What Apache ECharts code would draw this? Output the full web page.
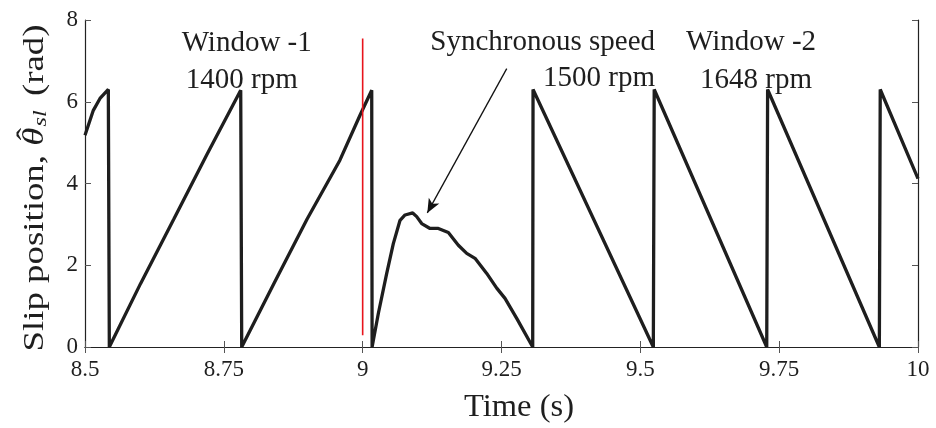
<!DOCTYPE html>
<html><head><meta charset="utf-8">
<script src="https://cdn.jsdelivr.net/npm/echarts@6/dist/echarts.min.js"></script>
<style>html,body{margin:0;padding:0;background:#fff}#c{width:936px;height:428px}</style>
</head><body><div id="c"></div>
<script>
// Slip position trace (time in s, value in rad)
const timeS = [8.5, 8.515, 8.527, 8.542, 8.5438,
  8.60, 8.66, 8.72, 8.7804, 8.7822,
  8.84, 8.90, 8.959, 8.9952, 9.0163, 9.0170,
  9.0282, 9.0433, 9.0552, 9.0673, 9.0763, 9.0901, 9.0973, 9.1063, 9.1213, 9.1363, 9.1543, 9.1723, 9.1874, 9.2023, 9.2234, 9.2414, 9.2563, 9.2774, 9.3062,
  9.3068, 9.5234, 9.5250, 9.7276, 9.7292, 9.9304, 9.9320, 10.0];
const slipRad = [5.18, 5.79, 6.08, 6.30, 0.0,
  1.55, 3.13, 4.72, 6.28, 0.0,
  1.55, 3.13, 4.57, 5.67, 6.28, 0.0,
  0.82, 1.80, 2.53, 3.10, 3.23, 3.28, 3.19, 3.02, 2.90, 2.90, 2.80, 2.49, 2.29, 2.17, 1.80, 1.44, 1.19, 0.70, 0.0,
  6.30, 0.0, 6.30, 0.0, 6.30, 0.0, 6.30, 4.12];
// Red marker line at t = 9 s
const markerT = [9, 9];
const markerV = [0.29, 7.55];
// Arrow (data coords): from text to curve
const arrowFrom = [9.2594, 6.81];
const arrowTo = [9.1164, 3.28];
const xTicks = [8.5, 8.75, 9, 9.25, 9.5, 9.75, 10];
const yTicks = [0, 2, 4, 6, 8];

const FONT = 'Liberation Serif';
const INK = '#1e1e1e';
const chart = echarts.init(document.getElementById('c'));
const pts = timeS.map((t, i) => [t, slipRad[i]]);
const red = markerT.map((t, i) => [t, markerV[i]]);
const axisCommon = {
  axisLine: {show: true, lineStyle: {color: '#222', width: 1.2}},
  axisTick: {show: true, inside: true, length: 6, lineStyle: {color: '#555'}},
  splitLine: {show: false}
};
const pick = (arr) => v => { const m = arr.find(x => Math.abs(x - v) < 1e-6); return m === undefined ? '' : String(m); };

// y-axis title pieces, laid out horizontally then rotated
const cv = document.createElement('canvas').getContext('2d');
const meas = (txt, f) => { cv.font = f; return cv.measureText(txt).width; };
const FS = 29, SUB = 19;
const fN = FS + 'px "' + FONT + '"', fI = 'italic ' + FS + 'px "' + FONT + '"', fS = 'italic ' + SUB + 'px "' + FONT + '"';
const p1 = 'Slip position, ', p2 = 'θ', p4 = 'sl', p5 = ' (rad)';
const w1 = meas(p1, fN), w2 = meas(p2, fI), w4 = meas(p4, fS), w5 = meas(p5, fN);
const gapSub = 1, gapAfter = 4;
const W = w1 + w2 + gapSub + w4 + gapAfter + w5;
const x0 = -W / 2;
const yTitle = {
  type: 'group', x: 35, y: 188, rotation: Math.PI / 2, scaleX: 1.27, scaleY: 1,
  children: [
    {type: 'text', x: x0, y: 0, style: {text: p1, font: fN, fill: INK, align: 'left', verticalAlign: 'middle'}},
    {type: 'text', x: x0 + w1, y: 0, style: {text: p2, font: fI, fill: INK, align: 'left', verticalAlign: 'middle'}},
    {type: 'text', x: x0 + w1 + w2 / 2 + 2, y: -6, style: {text: 'ˆ', font: FS + 'px "' + FONT + '"', fill: INK, align: 'center', verticalAlign: 'middle'}},
    {type: 'text', x: x0 + w1 + w2 + gapSub, y: 6, style: {text: p4, font: fS, fill: INK, align: 'left', verticalAlign: 'middle'}},
    {type: 'text', x: x0 + w1 + w2 + gapSub + w4 + gapAfter, y: 0, style: {text: p5, font: fN, fill: INK, align: 'left', verticalAlign: 'middle'}}
  ]
};
const ann = (text, x, y, align) => ({type: 'text', x, y, style: {text, fontFamily: FONT, fontSize: 29, fill: INK, align, verticalAlign: 'middle'}});

chart.setOption({
  animation: false,
  grid: {left: 85, right: 18, top: 20, bottom: 81, containLabel: false},
  xAxis: [
    Object.assign({type: 'value', min: 8.5, max: 10, interval: 0.25,
      axisLabel: {fontFamily: FONT, fontSize: 23, color: INK, margin: 11, formatter: pick(xTicks)}}, axisCommon),
    Object.assign({type: 'value', min: 8.5, max: 10, interval: 0.25, position: 'top',
      axisLabel: {show: false}}, axisCommon)
  ],
  yAxis: [
    Object.assign({type: 'value', min: 0, max: 8, interval: 2,
      axisLabel: {fontFamily: FONT, fontSize: 23, color: INK, margin: 7, formatter: pick(yTicks)}}, axisCommon),
    Object.assign({type: 'value', min: 0, max: 8, interval: 2, position: 'right',
      axisLabel: {show: false}}, axisCommon)
  ],
  series: [
    {type: 'line', data: pts, showSymbol: false, symbol: 'none', lineStyle: {color: INK, width: 3.3}, z: 3},
    {type: 'line', data: red, showSymbol: false, symbol: 'none', lineStyle: {color: '#e8141c', width: 1.6}, z: 4,
      markLine: {silent: true, symbol: ['none', 'arrow'], symbolSize: [9, 14], label: {show: false},
        lineStyle: {color: '#111', width: 1.3, type: 'solid'},
        data: [[{coord: arrowFrom}, {coord: arrowTo}]]}}
  ],
  graphic: [
    ann('Window -1', 246.7, 43, 'center'),
    ann('1400 rpm', 241.7, 80, 'center'),
    ann('Synchronous speed', 655, 42, 'right'),
    ann('1500 rpm', 655, 78, 'right'),
    ann('Window -2', 686, 42, 'left'),
    ann('1648 rpm', 700, 80, 'left'),
    {type: 'text', x: 519, y: 408, scaleX: 1.05, style: {text: 'Time (s)', fontFamily: FONT, fontSize: 31, fill: INK, align: 'center', verticalAlign: 'middle'}},
    yTitle
  ]
});
</script></body></html>
